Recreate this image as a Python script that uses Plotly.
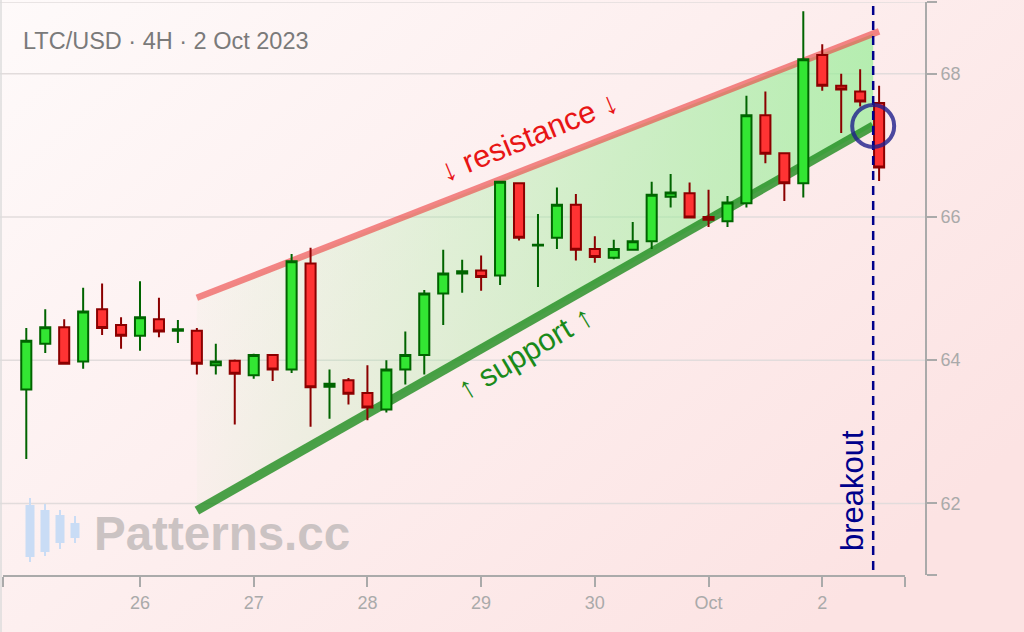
import base64
import pandas as pd
import plotly.graph_objects as go

# ---------------- data ----------------
times = pd.date_range("2023-09-25 00:00", periods=46, freq="4h")
opens = [63.59, 64.23, 64.46, 63.98, 64.71, 64.49, 64.34, 64.57, 64.41, 64.41,
         63.93, 63.99, 63.79, 64.07, 63.87, 65.35, 63.63, 63.72, 63.54, 63.31,
         63.87, 64.07, 64.93, 65.21, 65.25, 65.18, 66.47, 65.60, 65.71, 66.17,
         65.55, 65.43, 65.54, 65.66, 66.28, 66.33, 66.00, 65.94, 66.19, 67.42,
         66.89, 66.47, 68.26, 67.83, 67.75, 67.59]
highs = [64.45, 64.71, 64.57, 65.01, 65.07, 64.60, 65.10, 64.87, 64.56, 64.45,
         64.23, 64.01, 64.09, 64.08, 65.48, 65.57, 63.87, 63.75, 63.93, 64.00,
         64.40, 64.98, 65.54, 65.40, 65.46, 66.50, 66.48, 66.04, 66.41, 66.32,
         65.73, 65.68, 65.93, 66.49, 66.60, 66.48, 66.38, 66.29, 67.69, 67.75,
         66.90, 68.87, 68.41, 68.00, 68.06, 67.83]
lows = [62.62, 64.10, 63.94, 63.88, 64.35, 64.16, 64.13, 64.32, 64.24, 63.80,
        63.80, 63.10, 63.74, 63.71, 63.82, 63.07, 63.18, 63.38, 63.16, 63.27,
        63.66, 63.80, 64.49, 64.94, 64.97, 65.05, 65.67, 65.02, 65.55, 65.39,
        65.36, 65.41, 65.53, 65.55, 66.13, 65.98, 65.86, 65.86, 66.13, 66.75,
        66.22, 66.27, 67.76, 67.17, 67.54, 66.50]
closes = [64.27, 64.46, 63.95, 64.68, 64.45, 64.34, 64.60, 64.40, 64.43, 63.95,
          63.98, 63.81, 64.07, 63.87, 65.38, 63.62, 63.67, 63.53, 63.34, 63.87,
          64.07, 64.93, 65.21, 65.24, 65.16, 66.49, 65.71, 65.61, 66.17, 65.54,
          65.44, 65.55, 65.66, 66.31, 66.34, 65.99, 65.96, 66.20, 67.42, 66.88,
          66.47, 68.20, 67.83, 67.78, 67.61, 66.69]

res_x = ["2023-09-26 12:00", "2023-10-02 12:00"]
res_y = [64.87, 68.59]
sup_x = ["2023-09-26 12:00", "2023-10-02 10:45"]
sup_y = [61.90, 67.27]
breakout_time = "2023-10-02 10:45"

x_range = ["2023-09-24 19:05", "2023-10-02 17:28"]
x_tickvals = ["2023-09-26", "2023-09-27", "2023-09-28", "2023-09-29",
              "2023-09-30", "2023-10-01", "2023-10-02"]
x_ticktext = ["26", "27", "28", "29", "30", "Oct", "2"]
y_range = [61, 69]
y_tickvals = [62, 64, 66, 68]
y_ticktext = ["62", "64", "66", "68"]

# ---------------- layout helpers ----------------
W, H = 1024, 632
FONT = "Liberation Sans, Arial, sans-serif"


def px(x):
    return x / W


def py(y):
    return 1 - y / H


# resistance value at the breakout time (for the wedge fill)
t0 = pd.Timestamp(res_x[0]).value
t1 = pd.Timestamp(res_x[1]).value
tb = pd.Timestamp(sup_x[1]).value
res_at_b = res_y[0] + (res_y[1] - res_y[0]) * (tb - t0) / (t1 - t0)

fig = go.Figure()

# wedge fill
fig.add_trace(go.Scatter(
    x=[sup_x[0], sup_x[1], sup_x[1], res_x[0], sup_x[0]],
    y=[sup_y[0], sup_y[1], res_at_b, res_y[0], sup_y[0]],
    mode="lines", fill="toself", line=dict(width=0),
    fillgradient=dict(type="horizontal",
                      colorscale=[[0, "rgba(150,238,150,0.04)"],
                                  [1, "rgba(150,238,150,0.70)"]]),
    hoverinfo="skip", showlegend=False))

# resistance / support lines
fig.add_trace(go.Scatter(x=res_x, y=res_y, mode="lines",
                         line=dict(color="rgba(236,60,60,0.6)", width=6.5),
                         hoverinfo="skip", showlegend=False))
fig.add_trace(go.Scatter(x=sup_x, y=sup_y, mode="lines",
                         line=dict(color="rgba(30,140,30,0.8)", width=9),
                         hoverinfo="skip", showlegend=False))

# candles (on an overlaying subplot so they are drawn above the wedge)
fig.add_trace(go.Candlestick(
    x=times, open=opens, high=highs, low=lows, close=closes,
    xaxis="x2", yaxis="y2",
    increasing=dict(fillcolor="#33e633", line=dict(color="#006400", width=2)),
    decreasing=dict(fillcolor="#ff3333", line=dict(color="#8b0000", width=2)),
    showlegend=False))

# background gradient
svg = ("<svg xmlns='http://www.w3.org/2000/svg' width='1024' height='632'>"
       "<defs><linearGradient id='g' x1='0' y1='0' x2='1' y2='0.7'>"
       "<stop offset='0' stop-color='#fefafa'/>"
       "<stop offset='1' stop-color='#fce3e3'/>"
       "</linearGradient></defs>"
       "<rect width='1024' height='632' fill='url(#g)'/></svg>")
bg_src = "data:image/svg+xml;base64," + base64.b64encode(svg.encode()).decode()

shapes = []
# gridlines across plot area (0 .. y-axis position)
for v in y_tickvals + [y_range[1]]:
    shapes.append(dict(type="line", xref="paper", yref="y", x0=0, x1=px(926),
                       y0=v, y1=v, layer="below",
                       line=dict(color="#e2dcdc", width=1.5)))
# left page border
shapes.append(dict(type="line", xref="paper", yref="paper", x0=px(1), x1=px(1),
                   y0=0, y1=1, layer="below",
                   line=dict(color="#dddddd", width=1.5)))
# breakout line
shapes.append(dict(type="line", xref="x", yref="paper", x0=breakout_time,
                   x1=breakout_time, y0=py(570), y1=1, layer="above",
                   line=dict(color="#00008b", width=2.5, dash="9px,6px")))
# breakout circle
shapes.append(dict(type="circle", xref="x", yref="y", xsizemode="pixel",
                   ysizemode="pixel", xanchor=breakout_time, yanchor=sup_y[1],
                   x0=-21, x1=21, y0=-21, y1=21, layer="above",
                   line=dict(color="rgba(30,30,140,0.8)", width=4)))
# watermark logo (decorative candles)
logo = [(30, 498, 562, 505, 557), (45, 504, 556, 510, 552),
        (60, 510, 549, 515, 543), (75, 516, 543, 523, 538)]
for cx, wt, wb, bt, bb in logo:
    shapes.append(dict(type="line", xref="paper", yref="paper", x0=px(cx),
                       x1=px(cx), y0=py(wb), y1=py(wt), layer="below",
                       line=dict(color="#c9dcf5", width=2)))
    shapes.append(dict(type="rect", xref="paper", yref="paper", x0=px(cx - 4.5),
                       x1=px(cx + 4.5), y0=py(bb), y1=py(bt), layer="below",
                       line=dict(width=0), fillcolor="#c9dcf5"))

annotations = [
    dict(text="LTC/USD · 4H · 2 Oct 2023", x=px(21), y=py(41), xref="paper",
         yref="paper", xanchor="left", yanchor="middle", showarrow=False,
         font=dict(family=FONT, size=23.5, color="#7a7a7a")),
    dict(text="↓ resistance ↓", x=px(529), y=py(136), xref="paper",
         yref="paper", xanchor="center", yanchor="middle", showarrow=False,
         textangle=-22.5, font=dict(family=FONT, size=31, color="#e81515")),
    dict(text="↑ support ↑", x=px(525), y=py(352), xref="paper",
         yref="paper", xanchor="center", yanchor="middle", showarrow=False,
         textangle=-31, font=dict(family=FONT, size=31, color="#1a8a1a")),
    dict(text="breakout", x=px(852), y=py(491), xref="paper",
         yref="paper", xanchor="center", yanchor="middle", showarrow=False,
         textangle=-90, font=dict(family=FONT, size=31, color="#00008b")),
    dict(text="<b>Patterns.cc</b>", x=px(92), y=py(533), xref="paper",
         yref="paper", xanchor="left", yanchor="middle", showarrow=False,
         font=dict(family=FONT, size=47.5, color="#cbc3c3")),
]

xaxis_common = dict(domain=[px(3), px(905)], type="date", range=x_range,
                    rangeslider=dict(visible=False), automargin=False)
yaxis_common = dict(domain=[py(575), py(2)], range=y_range, automargin=False)

fig.update_layout(
    width=W, height=H, autosize=False,
    margin=dict(l=0, r=0, t=0, b=0),
    paper_bgcolor="rgba(0,0,0,0)", plot_bgcolor="rgba(0,0,0,0)",
    font=dict(family=FONT),
    showlegend=False,
    boxgap=0.24,
    images=[dict(source=bg_src, xref="paper", yref="paper", x=0, y=1,
                 sizex=1, sizey=1, sizing="stretch", layer="below",
                 xanchor="left", yanchor="top")],
    shapes=shapes, annotations=annotations,
    xaxis=dict(**xaxis_common,
               anchor="y", tickvals=[x_range[0]] + x_tickvals + [x_range[1]],
               ticktext=[""] + x_ticktext + [""], ticks="outside", ticklen=10,
               tickwidth=2, tickcolor="#aaaaaa", showline=True,
               linecolor="#aaaaaa", linewidth=2, showgrid=False,
               zeroline=False,
               tickfont=dict(family=FONT, size=18, color="#aaaaaa")),
    yaxis=dict(**yaxis_common, anchor="free",
               position=px(926), side="right",
               tickvals=[y_range[0]] + y_tickvals + [y_range[1]],
               ticktext=[""] + y_ticktext + [""], ticks="outside", ticklen=10,
               tickwidth=2, tickcolor="#aaaaaa", showline=True,
               linecolor="#aaaaaa", linewidth=2, showgrid=False,
               zeroline=False,
               tickfont=dict(family=FONT, size=18, color="#aaaaaa")),
    xaxis2=dict(**xaxis_common, overlaying="x", anchor="y2", visible=False),
    yaxis2=dict(**yaxis_common, overlaying="y", anchor="x2", visible=False),
)

fig.write_html("out.html",
               config={"displayModeBar": False},
               post_script="document.body.style.margin='0';"
                           "document.body.style.overflow='hidden';")
